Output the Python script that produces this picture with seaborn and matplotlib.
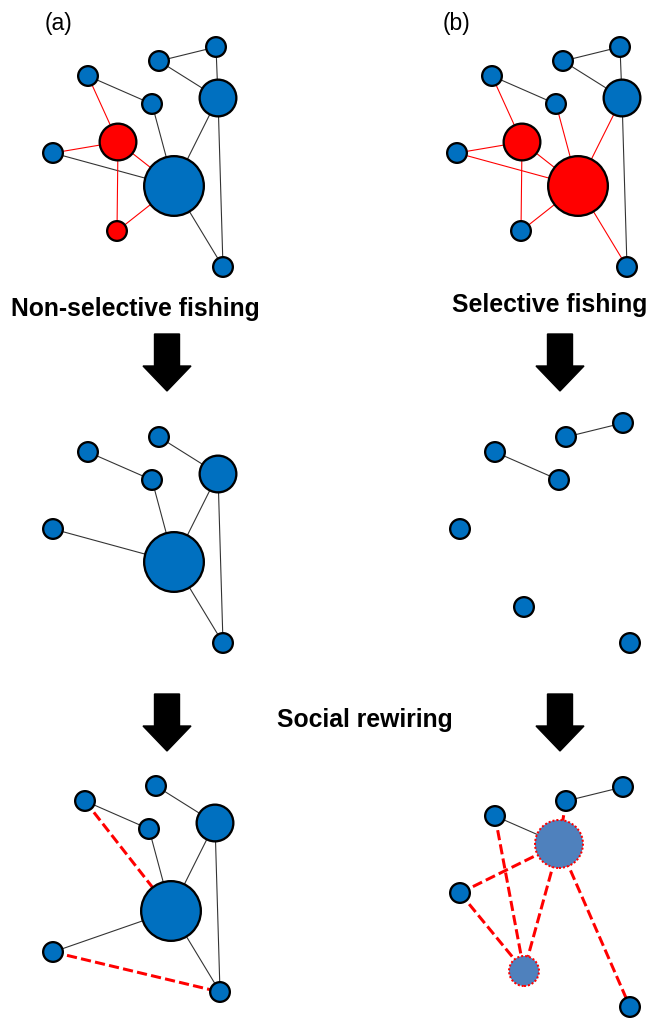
import pandas as pd
import matplotlib.pyplot as plt
from matplotlib.patches import FancyArrow
import seaborn as sns

# base network layout (pixel coords of panel (a), top row)
node_x = [216, 159, 88, 152, 218, 118, 53, 174, 117, 223]
node_y = [47, 61, 76, 104, 98, 142, 153, 186, 231, 267]
node_kind = ['small', 'small', 'small', 'small', 'medium', 'medium',
             'small', 'big', 'small', 'small']
edges = [(1, 0), (1, 4), (0, 4), (2, 3), (2, 5), (3, 7), (4, 7), (4, 9),
         (6, 5), (6, 7), (5, 7), (5, 8), (8, 7), (7, 9)]

# which nodes are targeted / left / rewired in each panel
red_a = [5, 8]
red_b = [5, 7]
kept_a = [1, 2, 3, 4, 6, 7, 9]
kept_b = [0, 1, 2, 3, 6, 8, 9]
moved_node_a = 6
moved_xy_a = (56, 227)
rewired_a = [(2, 7), (6, 9)]
grown_b = {3: 'grown_big', 8: 'grown_small'}
rewired_b = [(1, 3), (6, 3), (2, 8), (6, 8), (3, 8), (3, 9)]

labels = ['(a)', '(b)']
step_labels = ['Non-selective fishing', 'Selective fishing', 'Social rewiring']

BLUE = '#0070C0'
RED = '#FF0000'
GREY_BLUE = '#4F81BD'
PX = 0.72  # points per pixel at dpi 100

size_map = {'small': (19.7 * PX) ** 2, 'medium': (36.7 * PX) ** 2,
            'big': (59.7 * PX) ** 2, 'grown_big': (48 * PX) ** 2,
            'grown_small': (30 * PX) ** 2}

sns.set_style('white')
plt.rcParams['font.family'] = ['Liberation Sans', 'DejaVu Sans']

fig = plt.figure(figsize=(6.51, 10.18), dpi=100)
ax = fig.add_axes([0, 0, 1, 1])


def draw_panel(dx, dy, nodes, edge_list, red_nodes=(), dashed=(), grown=None,
               moved=None):
    grown = grown or {}
    pos = {i: (node_x[i] + dx, node_y[i] + dy) for i in nodes}
    if moved is not None:
        pos[moved[0]] = (moved[1][0] + dx, moved[1][1] + dy)

    for a, b in edge_list:
        if a in pos and b in pos:
            col = RED if (a in red_nodes or b in red_nodes) else '#333333'
            ax.plot([pos[a][0], pos[b][0]], [pos[a][1], pos[b][1]],
                    color=col, lw=1.1 * PX, zorder=1)
    for a, b in dashed:
        ax.plot([pos[a][0], pos[b][0]], [pos[a][1], pos[b][1]],
                color=RED, lw=3.0 * PX, dashes=(3.4, 1.4), zorder=1)

    normal = [i for i in nodes if i not in grown]
    df = pd.DataFrame({
        'x': [pos[i][0] for i in normal],
        'y': [pos[i][1] for i in normal],
        'kind': [node_kind[i] for i in normal],
        'color': [RED if i in red_nodes else BLUE for i in normal],
    })
    sns.scatterplot(data=df, x='x', y='y', hue='color',
                    palette={RED: RED, BLUE: BLUE}, size='kind',
                    sizes=size_map, edgecolor='black', linewidth=2.3 * PX,
                    legend=False, ax=ax, zorder=3)
    if grown:
        gdf = pd.DataFrame({
            'x': [pos[i][0] for i in grown],
            'y': [pos[i][1] for i in grown],
            'kind': list(grown.values()),
        })
        sns.scatterplot(data=gdf, x='x', y='y', size='kind', sizes=size_map,
                        color=GREY_BLUE, edgecolor=RED, linewidth=2.0 * PX,
                        linestyle=(0, (1, 1)), legend=False, ax=ax, zorder=3)


all_nodes = list(range(len(node_x)))
# top row
draw_panel(0, 0, all_nodes, edges, red_nodes=red_a)
draw_panel(404, 0, all_nodes, edges, red_nodes=red_b)
# after fishing
draw_panel(0, 376, kept_a, edges)
draw_panel(407, 376, kept_b, edges)
# after social rewiring
draw_panel(-3, 725, kept_a, edges, dashed=rewired_a,
           moved=(moved_node_a, moved_xy_a))
draw_panel(407, 740, kept_b, edges, dashed=rewired_b, grown=grown_b)

# arrows
for arrow_x in (167, 560):
    for top in (334, 694):
        ax.add_patch(FancyArrow(arrow_x, top, 0, 57, width=25, head_width=48,
                                head_length=25, length_includes_head=True,
                                color='black', zorder=2))

ax.text(58, 23, labels[0], fontsize=16.5, color='black',
        ha='center', va='center')
ax.text(457, 23, labels[1], fontsize=16.5, color='black',
        ha='center', va='center')
ax.text(135, 309, step_labels[0], fontsize=17.8, fontweight='bold',
        color='black', ha='center', va='center')
ax.text(550, 305, step_labels[1], fontsize=17.8, fontweight='bold',
        color='black', ha='center', va='center')
ax.text(365, 720, step_labels[2], fontsize=17.8, fontweight='bold',
        color='black', ha='center', va='center')

ax.set_xlim(0, 651)
ax.set_ylim(1018, 0)
ax.axis('off')

fig.savefig('out.png', dpi=100)
